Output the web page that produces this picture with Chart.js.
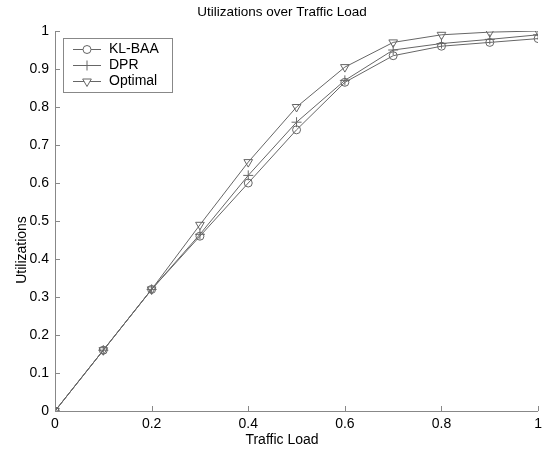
<!DOCTYPE html>
<html><head><meta charset="utf-8">
<script src="https://cdn.jsdelivr.net/npm/chart.js@4/dist/chart.umd.min.js"></script>
<style>html,body{margin:0;padding:0;background:#fff}#wrap{width:547px;height:454px}</style>
</head><body><div id="wrap"><canvas id="c" width="547" height="454"></canvas></div>
<script>
const trafficLoad = [0,0.1,0.2,0.3,0.4,0.5,0.6,0.7,0.8,0.9,1.0];
const klBaa   = [0,0.16,0.32,0.46,0.60,0.74,0.865,0.935,0.96,0.97,0.98];
const dpr     = [0,0.16,0.32,0.465,0.62,0.76,0.87,0.95,0.967,0.978,0.99];
const optimal = [0,0.16,0.32,0.49,0.655,0.80,0.905,0.97,0.99,0.997,1.0];
const seriesNames = ['KL-BAA','DPR','Optimal'];
const xTicks = [0,0.2,0.4,0.6,0.8,1];
const yTicks = [0,0.1,0.2,0.3,0.4,0.5,0.6,0.7,0.8,0.9,1];
const chartTitle = 'Utilizations over Traffic Load';
const xTitle = 'Traffic Load';
const yTitle = 'Utilizations';

const FONT = 'Liberation Sans, Arial, Helvetica, sans-serif';
const LINE = '#666';
const pts = arr => trafficLoad.map((x,i)=>({x, y: arr[i]}));

const styles = [
  {pointStyle:'circle', radius:4, rot:0},
  {pointStyle:'cross', radius:5, rot:0},
  {pointStyle:'triangle', radius:5, rot:180}
];

const ds = [klBaa,dpr,optimal].map((arr,i)=>({
  label: seriesNames[i],
  data: pts(arr),
  borderColor: LINE,
  borderWidth: 1,
  backgroundColor: 'rgba(0,0,0,0)',
  pointStyle: styles[i].pointStyle,
  pointRadius: styles[i].radius,
  pointRotation: styles[i].rot,
  pointBorderColor: LINE,
  pointBorderWidth: 1,
  pointBackgroundColor: 'rgba(0,0,0,0)',
  tension: 0
}));

const axesPlugin = {
  id: 'axes',
  afterDraw(chart) {
    const ctx = chart.ctx, a = chart.chartArea;
    const xs = chart.scales.x, ys = chart.scales.y;
    ctx.save();
    ctx.strokeStyle = '#888';
    ctx.lineWidth = 1;
    ctx.beginPath();
    ctx.moveTo(a.left+0.5, a.top); ctx.lineTo(a.left+0.5, a.bottom+0.5);
    ctx.lineTo(a.right, a.bottom+0.5);
    xTicks.forEach(v=>{ const p=Math.round(xs.getPixelForValue(v))+0.5; ctx.moveTo(p,a.bottom); ctx.lineTo(p,a.bottom-5); });
    yTicks.forEach(v=>{ const p=Math.round(ys.getPixelForValue(v))+0.5; ctx.moveTo(a.left,p); ctx.lineTo(a.left+5,p); });
    ctx.stroke();
    // titles
    ctx.fillStyle = '#000';
    ctx.textAlign = 'center';
    ctx.textBaseline = 'middle';
    ctx.font = '13.5px ' + FONT;
    ctx.fillText(chartTitle, 282, 12);
    ctx.font = '14px ' + FONT;
    ctx.fillText(xTitle, 282, 440);
    ctx.save();
    ctx.translate(22, 250);
    ctx.rotate(-Math.PI/2);
    ctx.fillText(yTitle, 0, 0);
    ctx.restore();
    // legend
    const lx=63, ly=38, lw=109, lh=54;
    ctx.textAlign = 'left';
    ctx.fillStyle='#fff';
    ctx.fillRect(lx,ly,lw,lh);
    ctx.strokeStyle='#888';
    ctx.strokeRect(lx+0.5,ly+0.5,lw,lh);
    ctx.font = '14px '+FONT;
    seriesNames.forEach((n,i)=>{
      const y = ly + 11 + i*16 + 0.5;
      ctx.strokeStyle=LINE; ctx.lineWidth=1;
      ctx.beginPath(); ctx.moveTo(lx+10,y); ctx.lineTo(lx+38,y); ctx.stroke();
      ctx.fillStyle='#fff';
      Chart.helpers.drawPoint(ctx,{pointStyle:styles[i].pointStyle,radius:styles[i].radius,rotation:styles[i].rot,borderWidth:1},lx+24,y);
      ctx.fillStyle='#000';
      ctx.fillText(n, lx+46, y);
    });
    ctx.restore();
  }
};

new Chart(document.getElementById('c'), {
  type: 'line',
  data: { datasets: ds },
  options: {
    responsive: false,
    animation: false,
    layout: { padding: { left: 12, right: 8, top: 31, bottom: 0 } },
    plugins: {
      legend: { display: false },
      tooltip: { enabled: false },
      title: { display: false }
    },
    scales: {
      x: { type: 'linear', min: 0, max: 1,
        afterBuildTicks(s){ s.ticks = xTicks.map(v=>({value:v})); },
        grid: { display: false, drawTicks: false }, border: { display: false },
        ticks: { color:'#000', font:{family:FONT,size:14}, padding: 5, maxRotation:0,
          callback: v => String(v) },
        afterFit(s){ s.height = 43; }
      },
      y: { type: 'linear', min: 0, max: 1,
        afterBuildTicks(s){ s.ticks = yTicks.map(v=>({value:v})); },
        grid: { display: false, drawTicks: false }, border: { display: false },
        ticks: { color:'#000', font:{family:FONT,size:14}, padding: 6,
          callback: v => String(v) },
        afterFit(s){ s.width = 43; }
      }
    }
  },
  plugins: [axesPlugin]
});
</script></body></html>
